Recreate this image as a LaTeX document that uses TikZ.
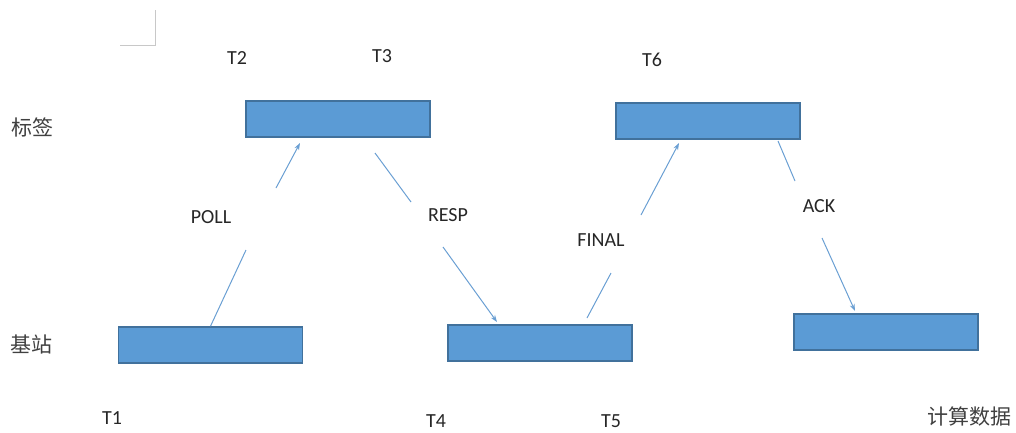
\documentclass[tikz,border=0pt]{standalone}
\usepackage{fontspec}
\setmainfont{Carlito}
\newfontfamily\cjk{Noto Sans CJK SC}
\usetikzlibrary{arrows.meta}
\definecolor{boxfill}{HTML}{5B9BD5}
\definecolor{boxline}{HTML}{41719C}
\definecolor{arrowc}{HTML}{6A9FD3}
\definecolor{markc}{HTML}{C8C8C8}
\tikzset{
  blk/.style={draw=boxline, line width=1.6pt, fill=boxfill, minimum width=184pt, minimum height=36pt, inner sep=0pt},
  lbl/.style={font=\fontsize{20}{20}\selectfont, text=black!85, inner sep=0pt},
  zh/.style={font=\cjk\fontsize{21}{21}\selectfont, text=black!75, inner sep=0pt},
  msg/.style={draw=arrowc, line width=1pt},
  msgtip/.style={msg, -{Stealth[length=7pt,width=5pt]}},
}
\begin{document}
\begin{tikzpicture}[x=1pt,y=-1pt]
\useasboundingbox (0,0) rectangle (1016,432);
% corner mark
\coordinate (m1) at (155,10);
\coordinate (m2) at (155,45);
\coordinate (m3) at (120,45);
\draw[markc, line width=1pt] (m1) -- (m2) -- (m3);
% boxes
\node[blk] (tag1) at (338,119) {};
\node[blk] (tag2) at (708,121) {};
\node[blk] (bs1) at (210.5,345) {};
\node[blk] (bs2) at (540,343) {};
\node[blk] (bs3) at (886,332) {};
% row labels
\node[zh] (ltag) at (33,127) {标签};
\node[zh] (lbs) at (31,344) {基站};
\node[zh] (lcalc) at (969,416) {计算数据};
% time labels
\node[lbl] (t1) at (112,418) {T1};
\node[lbl] (t2) at (237,58) {T2};
\node[lbl] (t3) at (382,56) {T3};
\node[lbl] (t4) at (436,421) {T4};
\node[lbl] (t5) at (611,421) {T5};
\node[lbl] (t6) at (652,60) {T6};
% message labels
\node[lbl] (lpoll) at (211,217) {POLL};
\node[lbl] (lresp) at (448,215) {RESP};
\node[lbl] (lfinal) at (601,240) {FINAL};
\node[lbl] (lack) at (819,206) {ACK};
% POLL
\coordinate (pa) at (246,250);
\coordinate (pb) at (276,188);
\coordinate (pe) at (300,143);
\draw[msg] (bs1.north) -- (pa);
\draw[msgtip] (pb) -- (pe);
% RESP
\coordinate (rs) at (375,153);
\coordinate (ra) at (411,202);
\coordinate (rb) at (443,247);
\coordinate (re) at (497,322);
\draw[msg] (rs) -- (ra);
\draw[msgtip] (rb) -- (re);
% FINAL
\coordinate (fs) at (587,318);
\coordinate (fa) at (611,273);
\coordinate (fb) at (641,215);
\coordinate (fe) at (679,143);
\draw[msg] (fs) -- (fa);
\draw[msgtip] (fb) -- (fe);
% ACK
\coordinate (as) at (778,141);
\coordinate (aa) at (795,181);
\coordinate (ab) at (822,238);
\coordinate (ae) at (855,311);
\draw[msg] (as) -- (aa);
\draw[msgtip] (ab) -- (ae);
\end{tikzpicture}
\end{document}
